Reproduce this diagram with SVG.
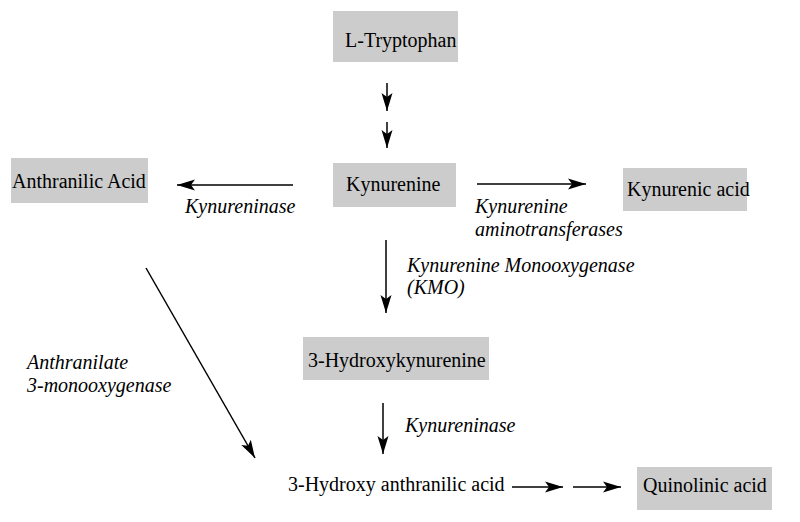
<svg xmlns="http://www.w3.org/2000/svg" width="800" height="522" viewBox="0 0 800 522">
<defs>
<marker id="ah" markerUnits="userSpaceOnUse" markerWidth="20" markerHeight="14" viewBox="0 0 20 14" refX="18" refY="7" orient="auto">
<path d="M0,1.5 L18,7 L0,12.5 L4,7 Z" fill="#000"/>
</marker>
</defs>
<style>
.box{fill:#cccccc}
.t{font-size:20px;fill:#000}
.e{font-size:20px;font-style:italic;fill:#000}
.c line{stroke:#000;stroke-width:1.5;marker-end:url(#ah)}
</style>
<rect width="800" height="522" fill="#fff"/>
<g font-family="Liberation Serif, DejaVu Serif, serif">
<g id="trp"><rect class="box" x="333" y="11" width="125" height="51"/><text class="t" x="345" y="47">L-Tryptophan</text></g>
<g id="kyn"><rect class="box" x="333" y="163" width="123" height="44"/><text class="t" x="346" y="191">Kynurenine</text></g>
<g id="aa"><rect class="box" x="11" y="158" width="137" height="45"/><text class="t" x="12" y="188">Anthranilic Acid</text></g>
<g id="ka"><rect class="box" x="623" y="168" width="124" height="43"/><text class="t" x="627" y="196">Kynurenic acid</text></g>
<g id="hk"><rect class="box" x="303" y="337" width="186" height="43"/><text class="t" x="308" y="367">3-Hydroxykynurenine</text></g>
<g id="haa"><text class="t" x="288" y="491">3-Hydroxy anthranilic acid</text></g>
<g id="qa"><rect class="box" x="637" y="467" width="135" height="43"/><text class="t" x="643" y="492">Quinolinic acid</text></g>
<g class="c" id="connectors">
<line x1="387" y1="83" x2="387" y2="111"/>
<line x1="387" y1="122" x2="387" y2="148"/>
<line x1="293" y1="185" x2="177" y2="185"/>
<line x1="477" y1="184" x2="586" y2="184"/>
<line x1="386" y1="240" x2="386" y2="313"/>
<line x1="146" y1="268" x2="255" y2="458"/>
<line x1="383" y1="403" x2="383" y2="454"/>
<line x1="512" y1="487" x2="563" y2="487"/>
<line x1="573" y1="487" x2="621" y2="487"/>
</g>
<g id="labels">
<text class="e" x="185" y="213">Kynureninase</text>
<text class="e" x="475" y="213">Kynurenine</text>
<text class="e" x="475" y="236">aminotransferases</text>
<text class="e" x="407" y="272">Kynurenine Monooxygenase</text>
<text class="e" x="407" y="294">(KMO)</text>
<text class="e" x="27" y="369">Anthranilate</text>
<text class="e" x="27" y="392">3-monooxygenase</text>
<text class="e" x="405" y="432">Kynureninase</text>
</g>
</g>
</svg>
